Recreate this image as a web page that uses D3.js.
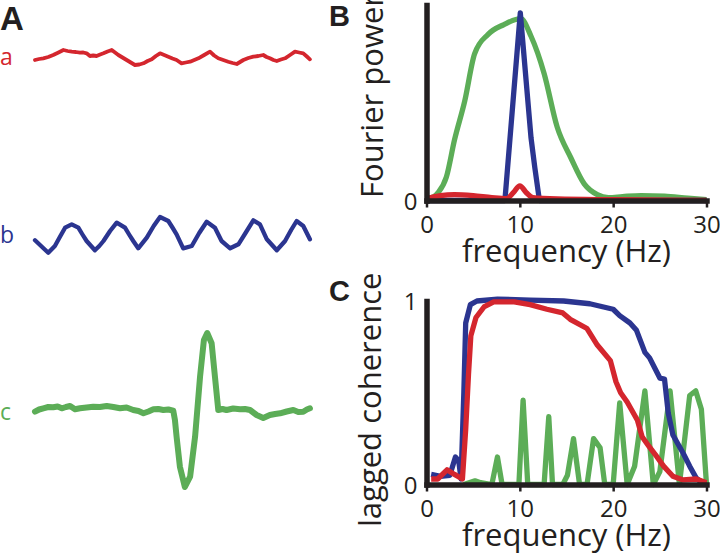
<!DOCTYPE html>
<html>
<head>
<meta charset="utf-8">
<script src="https://cdn.jsdelivr.net/npm/d3@7"></script>
<style>
  html, body { margin: 0; padding: 0; background: #fff; }
  svg { display: block; }
  text { font-family: "Open Sans", "Noto Sans", sans-serif; fill: #231f20; }
</style>
</head>
<body>
<svg id="chart" width="720" height="558"></svg>
<script>
// ---------------- DATA ----------------
// Panel A: raw traces, time in ms, amplitude in arbitrary units
const traceNames = ["a", "b", "c"];
const traceA_t = [0, 15, 30, 48, 66, 85, 103, 118, 133, 148, 163, 175, 187, 199, 211, 223, 236, 248, 263, 278, 290, 302, 317, 332, 347, 362, 378, 393, 408, 423, 438, 453, 468, 483, 498, 513, 531, 546, 562, 577, 592, 613, 634, 649, 664, 682, 700, 716, 731, 755, 773, 791, 809, 827, 839, 851, 864, 876, 891, 906, 924, 942, 957, 972, 985, 996];
const traceA_v = [0, 0.1, 0.17, 0.3, 0.5, 0.75, 1.0, 0.9, 0.83, 0.8, 0.73, 0.75, 0.67, 0.4, 0.45, 0.4, 0.55, 0.67, 0.85, 1.0, 0.75, 0.5, 0.25, 0, -0.25, -0.5, -0.45, -0.33, -0.1, 0.07, 0.4, 0.67, 0.5, 0.33, 0.15, 0, -0.33, -0.25, -0.17, 0, 0.17, 0.5, 0.83, 0.45, 0.17, 0, -0.17, -0.3, -0.4, 0, 0.2, 0.33, 0.4, 0.5, 0.3, 0.17, 0.0, -0.1, 0.05, 0.17, 0.5, 0.83, 0.75, 0.67, 0.35, 0.07];

const traceB_t = [0, 48, 72, 90, 109, 133, 157, 172, 187, 217, 233, 248, 272, 296, 326, 341, 356, 374, 405, 430, 453, 483, 498, 513, 537, 568, 595, 622, 652, 676, 707, 737, 765, 791, 815, 840, 876, 906, 928, 948, 972, 996];
const traceB_v = [-0.53, -1.77, -1.1, -0.2, 0.73, 1.07, 0.73, 0.05, -0.6, -1.53, -1.1, -0.6, 0.4, 1.23, 0.73, 0.05, -0.6, -1.33, -0.27, 0.9, 1.8, 1.4, 0.75, 0.07, -1.33, -1.1, 0.2, 1.33, 0.73, -0.6, -1.33, -0.93, 0.3, 1.47, 1.07, -0.43, -1.53, -0.6, 0.5, 1.4, 0.9, -0.43];

const traceC_t = [0, 15, 30, 48, 66, 82, 97, 112, 127, 145, 163, 187, 211, 235, 260, 284, 308, 332, 356, 375, 393, 411, 429, 447, 465, 483, 501, 507, 513, 525, 543, 562, 580, 598, 612, 624, 640, 652, 664, 679, 694, 718, 743, 761, 779, 803, 827, 851, 870, 888, 912, 936, 954, 972, 985, 996];
const traceC_v = [-0.17, 0.05, 0.17, 0.3, 0.27, 0.35, 0.17, 0.3, 0.4, 0.07, 0.17, 0.25, 0.33, 0.3, 0.4, 0.3, 0.17, 0.25, 0, -0.1, -0.33, -0.15, 0.07, 0.1, 0, 0.05, -0.07, -1.0, -2.67, -5.67, -7.7, -6.67, -2.67, 3.33, 7.0, 7.7, 6.67, 3.33, 0, 0.1, 0, 0.15, 0.07, 0.1, 0, -0.5, -0.8, -0.5, -0.4, -0.33, -0.15, 0, -0.2, -0.17, 0.05, 0.17];

// Panel B: Fourier power (normalised) vs frequency (Hz)
const powerGreenF = [0, 0.8, 1.24, 2.13, 3.0, 4.1, 5.15, 6.6, 8.3, 10.1, 11.2, 12.6, 14.0, 15.45, 16.9, 18.3, 19.5, 21, 23, 25.5, 28, 30];
const powerGreenV = [0.01, 0.02, 0.04, 0.12, 0.31, 0.51, 0.75, 0.85, 0.9, 0.93, 0.84, 0.65, 0.376, 0.22, 0.085, 0.03, 0.015, 0.02, 0.025, 0.022, 0.012, 0.005];
const powerBlueF = [0, 8.4, 10.05, 11.2, 11.6, 12.1, 30];
const powerBlueV = [0, 0, 0.96, 0.32, 0.17, 0, 0];
const powerRedF = [0, 1.5, 3, 5, 7, 8.6, 9.3, 10, 10.7, 11.4, 14, 20, 30];
const powerRedV = [0.01, 0.025, 0.03, 0.025, 0.015, 0.01, 0.04, 0.075, 0.04, 0.015, 0.008, 0.004, 0];

// Panel C: lagged coherence vs frequency (Hz)
const cohBlueF = [0.5, 1.5, 2.5, 3.1, 3.45, 3.7, 4.0, 4.2, 4.7, 5.4, 7.6, 11.1, 14.7, 17.5, 20.0, 20.7, 21.8, 22.5, 23.4, 23.9, 25.0, 25.5, 25.9, 26.4, 27.5, 28.2, 28.9, 29.5, 30];
const cohBlueV = [0.055, 0.045, 0.05, 0.15, 0.13, 0.03, 0.5, 0.88, 0.98, 1.0, 1.01, 1.005, 1.0, 0.985, 0.955, 0.92, 0.88, 0.84, 0.72, 0.69, 0.58, 0.575, 0.39, 0.27, 0.17, 0.1, 0.035, 0.01, 0.01];
const cohRedF = [0.5, 1.2, 2.2, 3.0, 3.85, 4.2, 4.5, 4.75, 5.3, 6.2, 7.2, 9.4, 11.1, 12.9, 14.6, 15.4, 17.2, 18.3, 19.7, 20.3, 20.8, 21.5, 22.6, 23.1, 23.8, 24.7, 25.4, 26.4, 27.5, 28.9, 30];
const cohRedV = [0.03, 0.03, 0.08, 0.055, 0.03, 0.3, 0.6, 0.81, 0.91, 0.97, 0.995, 0.995, 0.98, 0.955, 0.935, 0.9, 0.85, 0.76, 0.675, 0.56, 0.5, 0.45, 0.35, 0.26, 0.21, 0.15, 0.1, 0.045, 0.025, 0.03, 0.01];
const cohGreenF = [4, 5.2, 5.8, 7.0, 7.6, 8.1, 9.9, 10.35, 10.85, 12.6, 13.1, 13.5, 14.6, 15.1, 15.75, 16.4, 17.2, 17.9, 18.6, 19.1, 20.0, 20.7, 21.5, 22.3, 23.4, 24.3, 25.0, 26.1, 27.1, 28.2, 28.85, 29.45, 30];
const cohGreenV = [0, 0.02, 0.01, 0, 0.15, 0, 0, 0.46, 0, 0, 0.37, 0, 0, 0.05, 0.25, 0, 0, 0.25, 0.2, 0, 0, 0.445, 0, 0.1, 0.51, 0, 0.07, 0.51, 0, 0.485, 0.51, 0.41, 0];

const freqTicks = [0, 10, 20, 30];
const powerTicks = [0];
const cohTicks = [0, 1];

// ---------------- STYLE ----------------
const RED = "#d4262e", BLUE = "#2b3590", GREEN = "#5cad57", INK = "#231f20";

const svg = d3.select("#chart");
const zip = (a, b) => a.map((v, i) => [v, b[i]]);

// ---------------- PANEL A ----------------
const tScale = d3.scaleLinear().domain([0, 1000]).range([35, 311]);
const ampScale = d3.scaleLinear().domain([-10, 10]).range([100, -100]);
const rowScale = d3.scalePoint().domain(traceNames).range([60, 410]);

const traces = [
  { name: "a", t: traceA_t, v: traceA_v, color: RED, w: 3.8 },
  { name: "b", t: traceB_t, v: traceB_v, color: BLUE, w: 4.3 },
  { name: "c", t: traceC_t, v: traceC_v, color: GREEN, w: 6 }
];
const traceLine = d3.line().x(d => tScale(d[0])).y(d => ampScale(d[1])).curve(d3.curveLinear);

traces.forEach(tr => {
  const g = svg.append("g").attr("transform", `translate(0,${rowScale(tr.name)})`);
  g.append("path")
    .datum(zip(tr.t, tr.v))
    .attr("d", traceLine)
    .attr("fill", "none")
    .attr("stroke", tr.color)
    .attr("stroke-width", tr.w)
    .attr("stroke-linejoin", "round")
    .attr("stroke-linecap", "round");
  g.append("text")
    .attr("x", 0).attr("y", tr.name === "b" ? 8 : (tr.name === "c" ? 10 : 5))
    .attr("font-size", 23)
    .style("fill", tr.color)
    .text(tr.name);
});

svg.append("text").attr("x", 0).attr("y", 30)
  .attr("font-size", 33).attr("font-weight", "bold")
  .style("font-family", "'Liberation Sans', Arial, sans-serif").text("A");

// ---------------- PANELS B & C ----------------
function panel(opts) {
  const x = d3.scaleLinear().domain([0, 30]).range([426.5, 706.5]);
  const y = d3.scaleLinear().domain([0, 1]).range([opts.y0, opts.y1]);
  const g = svg.append("g");
  const line = d3.line().x(d => x(d[0])).y(d => y(d[1]));

  opts.series.forEach(s => {
    g.append("path")
      .datum(zip(s.f, s.v))
      .attr("d", line.curve(s.curve || d3.curveLinear))
      .attr("fill", "none")
      .attr("stroke", s.color)
      .attr("stroke-width", 5.3)
      .attr("stroke-linejoin", "round");
  });

  // x axis
  const xa = g.append("g").attr("transform", `translate(0,${opts.y0})`)
    .call(d3.axisBottom(x).tickValues(freqTicks).tickSizeInner(7).tickSizeOuter(0).tickPadding(10));
  xa.select(".domain").attr("stroke", INK).attr("stroke-width", 5.5).attr("stroke-linecap", "square");
  xa.selectAll(".tick line").attr("stroke", INK).attr("stroke-width", 2.5);
  xa.selectAll(".tick text").attr("font-size", 24).attr("font-family", null).style("fill", INK)
    .attr("dy", null).attr("y", 32);

  // y axis
  const ya = g.append("g").attr("transform", `translate(${x(0)},0)`)
    .call(d3.axisLeft(y).tickValues(opts.yTicks).tickSize(0).tickPadding(9).tickFormat(d3.format("d")));
  ya.select(".domain").attr("stroke", INK).attr("stroke-width", 5.5).attr("stroke-linecap", "square");
  ya.selectAll(".tick text").attr("font-size", 24).attr("font-family", null).style("fill", INK)
    .attr("dy", "0.36em");

  // axis titles
  g.append("text")
    .attr("x", (x.range()[0] + x.range()[1]) / 2).attr("y", opts.y0 + 61.5)
    .attr("text-anchor", "middle").attr("font-size", 31).text("frequency (Hz)");
  g.append("text")
    .attr("transform", `translate(${opts.titleX},${opts.titleY}) rotate(-90)`)
    .attr("text-anchor", "start").attr("font-size", 31).text(opts.ytitle);

  svg.append("text").attr("x", 329).attr("y", opts.letterY)
    .attr("font-size", 29).attr("font-weight", "bold")
    .style("font-family", "'Liberation Sans', Arial, sans-serif").text(opts.letter);
}

panel({
  y0: 200.5, y1: 5, yTicks: powerTicks, ytitle: "Fourier power",
  titleX: 383, titleY: 198, letter: "B", letterY: 26,
  series: [
    { f: powerGreenF, v: powerGreenV, color: GREEN, curve: d3.curveMonotoneX },
    { f: powerBlueF, v: powerBlueV, color: BLUE },
    { f: powerRedF, v: powerRedV, color: RED, curve: d3.curveMonotoneX }
  ]
});

panel({
  y0: 484.5, y1: 301, yTicks: cohTicks, ytitle: "lagged coherence",
  titleX: 381, titleY: 527, letter: "C", letterY: 301,
  series: [
    { f: cohGreenF, v: cohGreenV, color: GREEN },
    { f: cohBlueF, v: cohBlueV, color: BLUE },
    { f: cohRedF, v: cohRedV, color: RED }
  ]
});
</script>
</body>
</html>
